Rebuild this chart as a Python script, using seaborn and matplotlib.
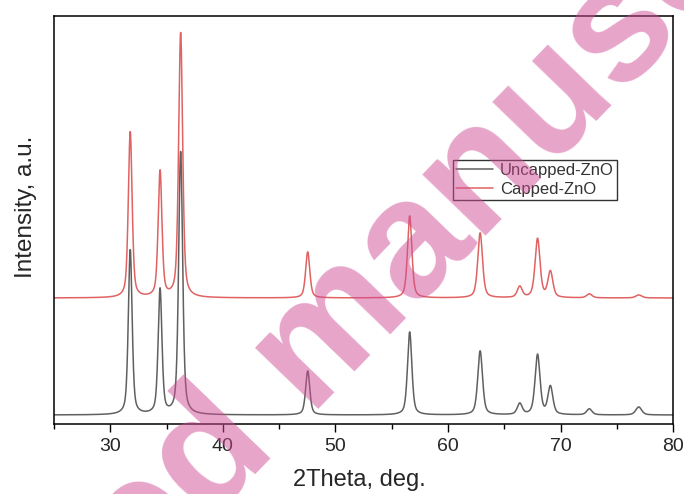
import numpy as np
import pandas as pd
import seaborn as sns
import matplotlib.pyplot as plt
from matplotlib.ticker import MultipleLocator

# ZnO reflections (2theta, deg)
peak_pos = [31.77, 34.42, 36.25, 47.54, 56.60, 62.86, 66.38, 67.96, 69.10, 72.56, 76.95]
peak_fwhm = [0.40, 0.40, 0.42, 0.44, 0.46, 0.50, 0.52, 0.52, 0.52, 0.56, 0.62]
# peak heights above the baseline (a.u.)
uncapped_heights = [1650, 1250, 2630, 440, 830, 640, 110, 600, 280, 60, 80]
capped_heights = [1660, 1260, 2650, 460, 820, 650, 110, 590, 260, 40, 30]
# baselines (curves are stacked)
uncapped_base = 90
capped_base = 1260

series_names = ["Uncapped-ZnO", "Capped-ZnO"]
series_colors = ["#606060", "#e06262"]

two_theta = np.arange(25, 80.001, 0.02)


def pattern(base, heights):
    y = np.full_like(two_theta, float(base))
    for c, h, w in zip(peak_pos, heights, peak_fwhm):
        d = (two_theta - c) / w
        lor = 1 / (1 + 4 * d ** 2)
        gau = np.exp(-4 * np.log(2) * d ** 2)
        y += h * (0.5 * lor + 0.5 * gau)
    return y


df = pd.concat([
    pd.DataFrame({"2theta": two_theta, "I": pattern(uncapped_base, uncapped_heights), "sample": series_names[0]}),
    pd.DataFrame({"2theta": two_theta, "I": pattern(capped_base, capped_heights), "sample": series_names[1]}),
])

sns.set_style("white")
plt.rcParams["font.family"] = ["Liberation Sans", "DejaVu Sans"]

fig = plt.figure(figsize=(6.84, 4.94), dpi=100)
ax = fig.add_axes([0.079, 0.1417, 0.905, 0.826])

sns.lineplot(data=df, x="2theta", y="I", hue="sample", hue_order=series_names,
             palette=series_colors, linewidth=1.1, sort=False, estimator=None, ax=ax)

ax.set_xlim(25, 80)
ax.set_ylim(0, 4080)
ax.xaxis.set_major_locator(MultipleLocator(10))
ax.xaxis.set_minor_locator(MultipleLocator(5))
ax.set_yticks([])
ax.tick_params(axis="x", which="major", direction="out", length=6, width=1,
               labelsize=14, pad=4, bottom=True, color="black")
ax.tick_params(axis="x", which="minor", direction="out", length=3.5, width=1,
               bottom=True, color="black")
for s in ax.spines.values():
    s.set_color("black")
    s.set_linewidth(1.1)

ax.set_xlabel("2Theta, deg.", fontsize=17)
ax.set_ylabel("Intensity, a.u.", fontsize=17.5)
ax.xaxis.set_label_coords(0.493, -0.11)
ax.yaxis.set_label_coords(-0.028, 0.532)

leg = ax.legend(loc="upper left", bbox_to_anchor=(0.645, 0.647), borderaxespad=0,
                fontsize=12, frameon=True, fancybox=False, edgecolor="black",
                handlelength=2.2, handletextpad=0.4, labelspacing=0.25, borderpad=0.18)
leg.get_frame().set_linewidth(1.0)
for t in leg.get_texts():
    t.set_color("#333333")

# pink watermark over the figure
fig.text(0.462, 0.291, "Accepted manuscript", fontsize=120, fontweight="bold",
         color="#cf4d94", alpha=0.5, rotation=46, ha="center", va="center",
         rotation_mode="anchor", zorder=10)

fig.savefig("out.png", dpi=100)
